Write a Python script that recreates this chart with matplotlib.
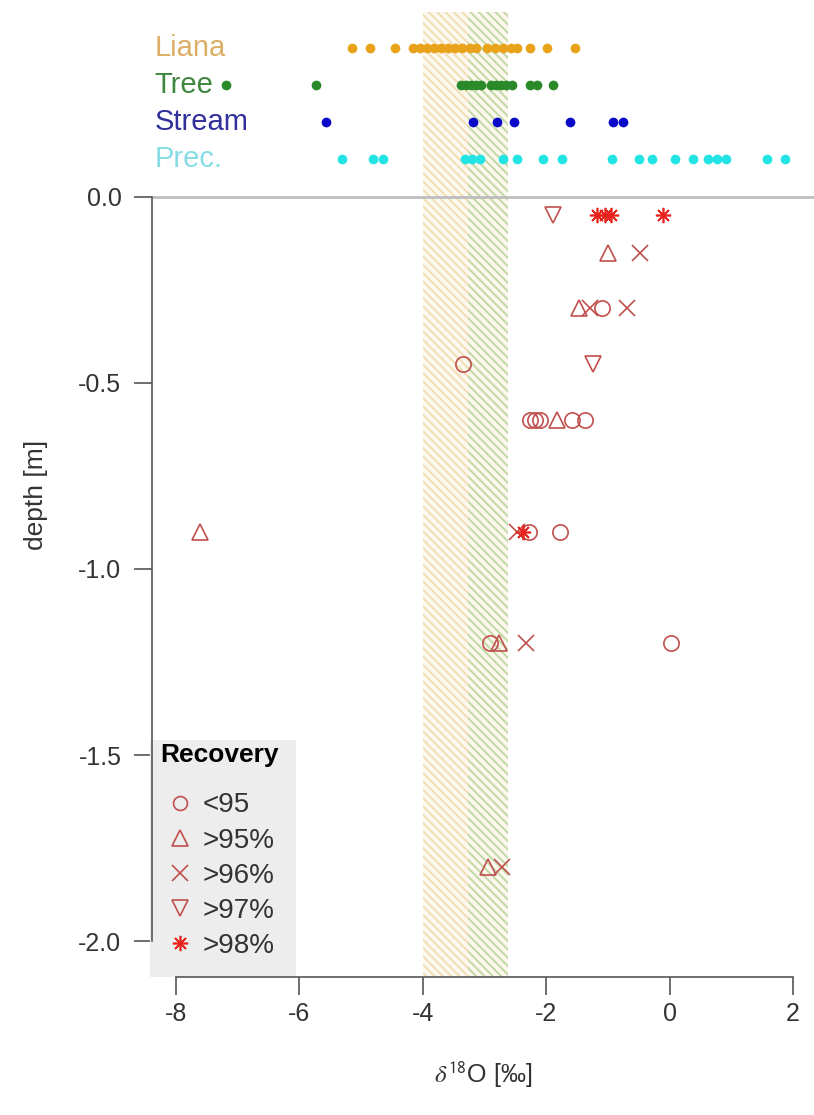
import numpy as np
import matplotlib.pyplot as plt
from matplotlib.lines import Line2D
from matplotlib.patches import Rectangle

plt.rcParams['font.family'] = ['Liberation Sans', 'DejaVu Sans']
plt.rcParams['axes.unicode_minus'] = False
plt.rcParams['mathtext.fontset'] = 'stix'
plt.rcParams['hatch.linewidth'] = 1.3

# water source isotopes (d18O), one row per source above the soil profile
sources = ['Liana', 'Tree', 'Stream', 'Prec.']
source_rows = [0.4, 0.3, 0.2, 0.1]
liana_d18o = [-5.15, -4.86, -4.45, -4.16, -4.05, -3.93, -3.82, -3.71, -3.59, -3.48,
              -3.36, -3.24, -3.14, -2.96, -2.83, -2.70, -2.57, -2.47, -2.26, -1.99, -1.53]
tree_d18o = [-7.19, -5.73, -3.38, -3.30, -3.22, -3.14, -3.06, -2.89, -2.81, -2.73,
             -2.65, -2.55, -2.26, -2.15, -1.89]
stream_d18o = [-5.57, -3.19, -2.80, -2.52, -1.61, -0.92, -0.76]
prec_d18o = [-5.31, -4.81, -4.65, -3.32, -3.20, -3.07, -2.70, -2.47, -2.05, -1.74,
             -0.93, -0.50, -0.29, 0.09, 0.38, 0.62, 0.77, 0.91, 1.58, 1.87]

# soil water d18O by depth, split by extraction recovery
rec_lt95_x = [-1.10, -3.35, -2.26, -2.18, -2.10, -1.58, -1.37, -2.28, -1.78, -2.91, 0.02]
rec_lt95_y = [-0.30, -0.45, -0.60, -0.60, -0.60, -0.60, -0.60, -0.90, -0.90, -1.20, -1.20]
rec_95_x = [-1.00, -1.47, -1.82, -7.61, -2.77, -2.95]
rec_95_y = [-0.15, -0.30, -0.60, -0.90, -1.20, -1.80]
rec_96_x = [-0.48, -1.29, -0.69, -2.47, -2.33, -2.72]
rec_96_y = [-0.15, -0.30, -0.30, -0.90, -1.20, -1.80]
rec_97_x = [-1.89, -1.24]
rec_97_y = [-0.05, -0.45]
rec_98_x = [-1.17, -1.05, -0.95, -0.11, -2.38]
rec_98_y = [-0.05, -0.05, -0.05, -0.05, -0.90]
rec_labels = ['<95', '>95%', '>96%', '>97%', '>98%']

# range of liana and tree xylem water
liana_range = (-4.0, -2.62)
tree_range = (-3.27, -2.62)

src_colors = ['#e9a31a', '#2a8a2a', '#0a0ac8', '#22e4e4']
label_colors = ['#dcae66', '#3f873f', '#30309a', '#86dce4']
soil_col = '#c0504d'
star_col = '#e8231d'
txt_col = '#333333'

fig = plt.figure(figsize=(8.14, 11.15), dpi=100)
ax = fig.add_axes([152 / 814, 1 - 977 / 1115, 1 - 152 / 814, 965 / 1115])
ax.set_xlim(-8.39, 2.34)
ax.set_ylim(-2.096, 0.496)

ax.axvspan(*liana_range, facecolor='#fdf8ee', edgecolor='#f1dcb0', hatch='\\\\\\\\',
           linewidth=0, zorder=0)
ax.axvspan(*tree_range, facecolor='none', edgecolor='#bedbab', hatch='\\\\\\\\',
           linewidth=0, zorder=0.5)
ax.axhline(0, color='#bdbdbd', lw=2, zorder=1)

for name, row, vals, c, lc in zip(sources, source_rows,
                                  [liana_d18o, tree_d18o, stream_d18o, prec_d18o],
                                  src_colors, label_colors):
    ax.plot(vals, np.full(len(vals), row), 'o', color=c, ms=7, mec='none', zorder=3)
    ax.text(-8.35, row, name, color=lc, fontsize=21, ha='left', va='center')

mk = dict(ls='none', ms=11, mfc='none', mew=1.2, zorder=4)
ax.plot(rec_lt95_x, rec_lt95_y, marker='o', color=soil_col, **mk)
ax.plot(rec_95_x, rec_95_y, marker='^', color=soil_col, **mk)
ax.plot(rec_96_x, rec_96_y, marker='x', color=soil_col, **mk)
ax.plot(rec_97_x, rec_97_y, marker='v', color=soil_col, **mk)
ax.plot(rec_98_x, rec_98_y, marker=(8, 2, 0), color=star_col, **mk)

# recovery key: grey panel, bold title, marker entries
ax.add_patch(Rectangle((-0.003, 0), 0.2205, 0.2456, transform=ax.transAxes,
                       facecolor='#ededed', edgecolor='none', zorder=5, clip_on=False))
ax.text(0.012, 0.230, 'Recovery', transform=ax.transAxes, fontsize=19,
        fontweight='bold', color='black', ha='left', va='center', zorder=6)
handles = [
    Line2D([], [], marker='o', color=soil_col, ls='none', mfc='none', ms=10, mew=1.2),
    Line2D([], [], marker='^', color=soil_col, ls='none', mfc='none', ms=11, mew=1.2),
    Line2D([], [], marker='x', color=soil_col, ls='none', ms=11, mew=1.2),
    Line2D([], [], marker='v', color=soil_col, ls='none', mfc='none', ms=11, mew=1.2),
    Line2D([], [], marker=(8, 2, 0), color=star_col, ls='none', ms=11, mew=1.2),
]
leg = ax.legend(handles, rec_labels, loc='center left', bbox_to_anchor=(0.024, 0.105),
                borderaxespad=0, borderpad=0, frameon=False, fontsize=20,
                handlelength=0.9, handletextpad=0.35, labelspacing=0.33)
leg.set_zorder(6)
for t in leg.get_texts():
    t.set_color(txt_col)

for s in ['top', 'right']:
    ax.spines[s].set_visible(False)
ax.spines['left'].set_bounds(-2, 0)
ax.spines['bottom'].set_bounds(-8, 2)
for s in ['left', 'bottom']:
    ax.spines[s].set_color('#555555')
    ax.spines[s].set_linewidth(1.2)
    ax.spines[s].set_zorder(7)

ax.set_yticks([0, -0.5, -1.0, -1.5, -2.0])
ax.set_yticklabels(['0.0', '-0.5', '-1.0', '-1.5', '-2.0'])
ax.set_xticks([-8, -6, -4, -2, 0, 2])
ax.set_xticklabels(['-8', '-6', '-4', '-2', '0', '2'])
ax.tick_params(length=13, width=1.2, color='#555555', labelsize=18,
               labelcolor=txt_col)
ax.tick_params(axis='y', pad=9)
ax.tick_params(axis='x', pad=5)

ax.set_ylabel('depth [m]', fontsize=19, color=txt_col, labelpad=22)
ax.set_xlabel(r'$\delta^{\mathsf{18}}$O [‰]', fontsize=18, color=txt_col, labelpad=24)

fig.savefig('out.png', dpi=100)
